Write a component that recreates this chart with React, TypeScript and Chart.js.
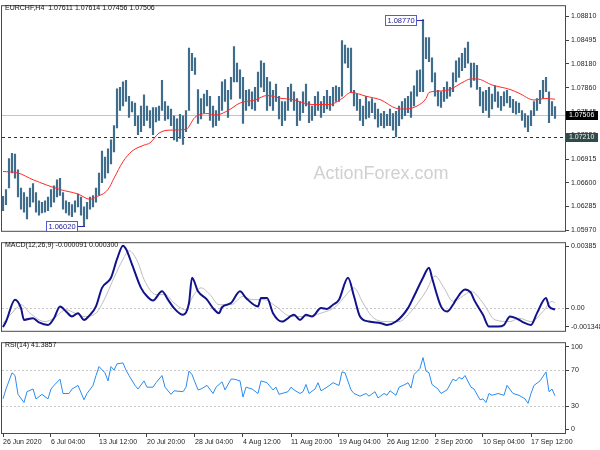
import React, { useEffect, useRef } from 'react';
import { Chart, registerables } from 'chart.js';

Chart.register(...registerables);

const FONT = '"Liberation Sans", Arial, sans-serif';
Chart.defaults.font.family = FONT;

// ---------------- DATA ----------------
const SYMBOL = 'EURCHF,H4';
const lastOHLC = [1.07611, 1.07614, 1.07456, 1.07506];

// bar index 0..184 (each ~ 2 H4 bars of the picture)
const highs = [
  1.0642, 1.0651, 1.0692, 1.0699, 1.0698, 1.0677, 1.0653, 1.0647, 1.0641, 1.0653,
  1.0659, 1.0647, 1.0636, 1.0634, 1.0636, 1.0641, 1.0651, 1.0656, 1.0664, 1.0666,
  1.0647, 1.0636, 1.0634, 1.0631, 1.0636, 1.0645, 1.0641, 1.0628, 1.0634, 1.0641,
  1.0643, 1.0653, 1.0673, 1.0702, 1.0694, 1.0705, 1.0717, 1.0736, 1.0785, 1.0787,
  1.0794, 1.0796, 1.0775, 1.0768, 1.0766, 1.0749, 1.0762, 1.0777, 1.0762, 1.0756,
  1.0760, 1.0760, 1.0762, 1.0796, 1.0768, 1.0762, 1.0758, 1.0749, 1.0745, 1.0751,
  1.0749, 1.0756, 1.0839, 1.0832, 1.0826, 1.0784, 1.0772, 1.0778, 1.0783, 1.0775,
  1.0762, 1.0756, 1.0775, 1.0794, 1.0797, 1.0783, 1.0800, 1.0841, 1.0819, 1.0810,
  1.0800, 1.0783, 1.0784, 1.0781, 1.0787, 1.0807, 1.0822, 1.0819, 1.0800, 1.0794,
  1.0783, 1.0791, 1.0775, 1.0768, 1.0768, 1.0787, 1.0791, 1.0781, 1.0772, 1.0768,
  1.0781, 1.0791, 1.0768, 1.0762, 1.0775, 1.0781, 1.0768, 1.0775, 1.0783, 1.0775,
  1.0787, 1.0789, 1.0787, 1.0849, 1.0843, 1.0839, 1.0839, 1.0783, 1.0778, 1.0771,
  1.0762, 1.0775, 1.0768, 1.0772, 1.0766, 1.0758, 1.0752, 1.0755, 1.0751, 1.0758,
  1.0752, 1.0755, 1.0762, 1.0768, 1.0772, 1.0775, 1.0781, 1.0789, 1.0809, 1.0810,
  1.0877, 1.0853, 1.0853, 1.0826, 1.0806, 1.0783, 1.0781, 1.0787, 1.0794, 1.0787,
  1.0806, 1.0822, 1.0826, 1.0832, 1.0839, 1.0847, 1.0819, 1.0819, 1.0816, 1.0787,
  1.0781, 1.0783, 1.0787, 1.0778, 1.0789, 1.0781, 1.0775, 1.0781, 1.0783, 1.0775,
  1.0771, 1.0768, 1.0766, 1.0756, 1.0752, 1.0749, 1.0756, 1.0768, 1.0772, 1.0783,
  1.0796, 1.0800, 1.0781, 1.0768, 1.07614,
];
const lows = [
  1.0623, 1.0631, 1.0653, 1.0673, 1.0666, 1.0641, 1.0625, 1.0621, 1.0612, 1.0628,
  1.0634, 1.0621, 1.0617, 1.0620, 1.0621, 1.0623, 1.0628, 1.0634, 1.0641, 1.0643,
  1.0625, 1.0620, 1.0617, 1.0615, 1.0621, 1.0628, 1.0617, 1.0602, 1.0612, 1.0625,
  1.0628, 1.0634, 1.0643, 1.0660, 1.0666, 1.0673, 1.0685, 1.0701, 1.0733, 1.0756,
  1.0762, 1.0768, 1.0747, 1.0754, 1.0736, 1.0724, 1.0728, 1.0736, 1.0743, 1.0733,
  1.0724, 1.0741, 1.0743, 1.0756, 1.0743, 1.0745, 1.0736, 1.0717, 1.0715, 1.0719,
  1.0711, 1.0728, 1.0756, 1.0809, 1.0804, 1.0739, 1.0745, 1.0753, 1.0762, 1.0743,
  1.0734, 1.0736, 1.0743, 1.0756, 1.0768, 1.0747, 1.0771, 1.0794, 1.0794, 1.0772,
  1.0739, 1.0756, 1.0762, 1.0758, 1.0756, 1.0768, 1.0787, 1.0781, 1.0756, 1.0762,
  1.0756, 1.0768, 1.0745, 1.0736, 1.0743, 1.0756, 1.0768, 1.0756, 1.0736, 1.0743,
  1.0753, 1.0762, 1.0740, 1.0743, 1.0749, 1.0756, 1.0747, 1.0753, 1.0758, 1.0756,
  1.0762, 1.0768, 1.0768, 1.0775, 1.0819, 1.0813, 1.0781, 1.0762, 1.0756, 1.0743,
  1.0736, 1.0745, 1.0747, 1.0753, 1.0745, 1.0734, 1.0736, 1.0733, 1.0736, 1.0736,
  1.0730, 1.0721, 1.0736, 1.0745, 1.0749, 1.0753, 1.0747, 1.0762, 1.0775, 1.0781,
  1.0781, 1.0825, 1.0821, 1.0794, 1.0775, 1.0762, 1.0760, 1.0768, 1.0772, 1.0775,
  1.0781, 1.0794, 1.0800, 1.0809, 1.0813, 1.0819, 1.0787, 1.0796, 1.0784, 1.0762,
  1.0753, 1.0756, 1.0747, 1.0758, 1.0768, 1.0760, 1.0756, 1.0762, 1.0766, 1.0760,
  1.0753, 1.0751, 1.0753, 1.0743, 1.0734, 1.0728, 1.0736, 1.0749, 1.0756, 1.0765,
  1.0772, 1.0781, 1.0740, 1.0749, 1.07456,
];

// moving average (red)
const maIdx = [0, 5, 10, 19, 25, 29, 31, 35, 37, 40, 43, 47, 49, 52, 56, 61, 64, 68, 71, 75,
  79, 84, 88, 93, 96, 103, 109, 113, 116, 121, 126, 131, 134, 138, 141, 142, 146, 149, 153, 156,
  158, 163, 169, 172, 177, 181, 184];
const maVal = [1.0675, 1.0673, 1.0664, 1.0651, 1.0645, 1.0638, 1.0641, 1.0651, 1.0666, 1.0688,
  1.0702, 1.0710, 1.0713, 1.0726, 1.0730, 1.0731, 1.0747, 1.0752, 1.0750, 1.0756,
  1.0766, 1.0770, 1.0776, 1.0772, 1.0771, 1.0764, 1.0764, 1.0772, 1.0780, 1.0775,
  1.0770, 1.0759, 1.0758, 1.0762, 1.0772, 1.0780, 1.0782, 1.0784, 1.0793, 1.0798,
  1.0798, 1.0790, 1.0784, 1.0779, 1.0770, 1.0772, 1.0771];

const priceTicks = [1.0597, 1.06285, 1.066, 1.06915, 1.0723, 1.07545, 1.0786, 1.0818, 1.08495, 1.0881];
const levelLine = 1.0721;
const highMarkIdx = 140;
const highMarkVal = 1.0877;
const lowMarkIdx = 27;
const lowMarkVal = 1.0602;

// MACD
const macdIdx = [0, 1, 4, 6, 7, 10, 12, 15, 17, 19, 21, 23, 25, 27, 29, 31, 33, 36, 38, 40,
  41, 43, 46, 48, 50, 53, 55, 57, 60, 62, 63, 65, 68, 70, 72, 73, 76, 79, 81, 85,
  86, 88, 90, 93, 97, 99, 101, 103, 106, 108, 110, 112, 115, 117, 119, 122, 126, 128, 131, 135,
  137, 140, 142, 143, 146, 148, 150, 151, 154, 156, 157, 160, 162, 165, 167, 169, 171, 173, 176, 178,
  181, 182, 184];
const macdVal = [-0.00113, -0.0008, 0.0005, 0, -0.0007, -0.0006, -0.00085, -0.001, -0.0006, 0.0001,
  -0.0002, -0.0005, -0.0003, -0.0007, -0.0004, 0.0001, 0.0012, 0.0018, 0.0029, 0.0037,
  0.0035, 0.0026, 0.0012, 0.0007, 0.00045, 0.001, 0.0005, 0, -0.0004, 0.0003,
  0.0018, 0.001, 0.0005, 0, -0.0003, 0.00005, 0.0003, 0.001, 0.0006, 0.0001,
  0.0006, 0.0006, -0.0003, -0.0008, -0.0004, -0.0007, -0.0004, -0.0005, 0, -0.00005,
  0.0002, 0.0005, 0.0018, 0.0007, -0.0005, -0.0008, -0.0009, -0.001, -0.0008, 0,
  0.0007, 0.0018, 0.0024, 0.0018, 0.0001, -0.0002, 0.0002, 0.0005, 0.0011, 0.0009,
  0.0005, -0.0004, -0.0011, -0.0011, -0.001, -0.0005, -0.0006, -0.0008, -0.001, -0.0003,
  0.0006, 0.0001, -0.000091];
const sigIdx = [0, 4, 6, 9, 14, 17, 21, 24, 27, 31, 34, 37, 40, 42, 45, 47, 51, 54, 57, 61,
  63, 66, 69, 72, 76, 80, 83, 87, 91, 96, 101, 106, 111, 114, 117, 120, 123, 127, 132, 136,
  141, 144, 147, 150, 154, 156, 160, 164, 169, 172, 176, 180, 183, 184];
const sigVal = [-0.0009, -0.0001, 0.0002, -0.0003, -0.0008, -0.0006, -0.0001, -0.0003, -0.0005, -0.0003,
  0.0006, 0.0018, 0.0029, 0.0034, 0.0027, 0.0017, 0.0008, 0.0008, 0.0003, -0.0001,
  0.0006, 0.0012, 0.0008, 0.0002, 0.0002, 0.0007, 0.0005, 0.0005, 0.0001, -0.0005,
  -0.0005, -0.0003, 0.0001, 0.0007, 0.0012, 0.0003, -0.0005, -0.0008, -0.0008, -0.0002,
  0.001, 0.0019, 0.0012, 0.0004, 0.0008, 0.001, 0.0003, -0.0007, -0.0008, -0.0006,
  -0.0008, -0.0002, 0.0004, 0.0003];
const macdMin = -0.001348;
const macdMax = 0.00385;
const macdTickPos = [0.00368, 0, -0.00112];
const macdTickLabels = ['0.00385', '0.00', '-0.001348'];

// RSI
const rsiIdx = [0, 1, 3, 4, 5, 7, 8, 10, 11, 13, 15, 16, 17, 19, 20, 22, 23, 25, 27, 28,
  30, 31, 32, 34, 35, 36, 37, 38, 40, 41, 42, 44, 45, 47, 48, 50, 51, 53, 54, 56,
  57, 60, 61, 62, 63, 65, 66, 68, 70, 71, 73, 74, 76, 77, 79, 80, 81, 83, 85, 86,
  88, 90, 91, 92, 95, 96, 97, 99, 100, 101, 102, 104, 105, 106, 108, 110, 112, 113, 114, 116,
  117, 119, 121, 122, 124, 125, 127, 128, 129, 131, 132, 134, 135, 136, 137, 139, 140, 141, 142, 143,
  145, 146, 148, 150, 151, 152, 153, 154, 156, 157, 159, 160, 161, 162, 163, 165, 167, 168, 170, 172,
  174, 175, 176, 177, 179, 181, 182, 183, 184];
const rsiVal = [38, 49, 67, 64, 43, 34, 46, 49, 38, 43, 38, 49, 53, 60, 44, 44, 49, 53, 37, 44,
  53, 64, 74, 67, 58, 74, 70, 77, 78, 70, 64, 53, 49, 58, 51, 51, 56, 64, 51, 43,
  47, 46, 51, 69, 65, 48, 49, 53, 44, 51, 57, 48, 60, 60, 58, 40, 51, 49, 44, 58,
  56, 48, 51, 43, 46, 51, 48, 44, 46, 54, 44, 49, 56, 47, 51, 56, 53, 68, 67, 48,
  44, 41, 44, 41, 46, 39, 44, 42, 47, 42, 51, 54, 56, 50, 65, 72, 84, 69, 67, 54,
  49, 44, 48, 60, 58, 62, 60, 64, 51, 49, 37, 38, 34, 44, 42, 44, 42, 53, 44, 42,
  38, 33, 44, 53, 58, 68, 46, 49, 41.3857];
const rsiLevels = [70, 30];
const rsiTickPos = [96, 70, 30, 4];
const rsiTickLabels = ['100', '70', '30', '0'];

const xTickIdx = [0, 16, 32, 48, 64, 80, 96, 112, 128, 144, 160, 176];
const xTickLabels = ['26 Jun 2020', '6 Jul 04:00', '13 Jul 12:00', '20 Jul 20:00', '28 Jul 04:00',
  '4 Aug 12:00', '11 Aug 20:00', '19 Aug 04:00', '26 Aug 12:00', '2 Sep 20:00', '10 Sep 04:00', '17 Sep 12:00'];

// ---------------- LAYOUT ----------------
const X_MIN = -1 / 3;
const X_MAX = 187 + 1 / 3;
const MAIN_MIN = 1.05961;
const MAIN_MAX = 1.08947;
const tickFont = { family: FONT, size: 7 };
const TXT = '#1e1e1e';
const AXIS = '#404040';

function xAxis(display: boolean): any {
  return {
    type: 'linear', min: X_MIN, max: X_MAX, offset: false, display,
    border: { display: false },
    grid: { display: true, drawOnChartArea: false, drawTicks: true, tickLength: 4, color: AXIS, offset: false },
    ticks: {
      autoSkip: false, maxRotation: 0, minRotation: 0, align: 'start', padding: 1,
      font: tickFont, color: TXT,
      callback: (_v: any, i: number) => xTickLabels[i] ?? '',
    },
    afterBuildTicks: (s: any) => { s.ticks = xTickIdx.map((v) => ({ value: v })); },
    afterFit: (s: any) => {
      s.height = display ? 17 : 0;
      s.paddingLeft = 0;
      s.paddingRight = 0;
    },
  };
}

function yAxis(min: number, max: number, pos: number[], labels: string[]): any {
  return {
    type: 'linear', position: 'right', min, max, beginAtZero: false,
    border: { display: false },
    grid: { display: true, drawOnChartArea: false, drawTicks: true, tickLength: 4, color: AXIS },
    ticks: { autoSkip: false, padding: 2, font: tickFont, color: TXT, callback: (_v: any, i: number) => labels[i] },
    afterBuildTicks: (s: any) => { s.ticks = pos.map((v) => ({ value: v })); },
    afterFit: (s: any) => { s.width = 35; },
  };
}

function frame(chart: any) {
  const { ctx, chartArea: a } = chart;
  ctx.save();
  ctx.strokeStyle = '#4a4a4a';
  ctx.lineWidth = 1;
  ctx.strokeRect(a.left - 0.5, a.top - 0.5, a.right - a.left + 1, a.bottom - a.top + 1);
  ctx.restore();
}

function titleText(chart: any, text: string, baseline: number) {
  const { ctx, chartArea: a } = chart;
  ctx.save();
  ctx.font = `7px ${FONT}`;
  ctx.fillStyle = '#111';
  ctx.textAlign = 'left';
  ctx.textBaseline = 'alphabetic';
  ctx.fillText(text, a.left + 3, baseline);
  ctx.restore();
}

function hLine(chart: any, value: number, color: string, dash: number[]) {
  const { ctx, chartArea: a, scales } = chart;
  const y = Math.round(scales.y.getPixelForValue(value)) + 0.5;
  ctx.save();
  ctx.strokeStyle = color;
  ctx.lineWidth = 1;
  ctx.setLineDash(dash);
  ctx.beginPath();
  ctx.moveTo(a.left, y);
  ctx.lineTo(a.right, y);
  ctx.stroke();
  ctx.restore();
}

function priceBox(chart: any, value: number, bg: string, fg: string) {
  const { ctx, chartArea: a, scales } = chart;
  const py = Math.round(scales.y.getPixelForValue(value));
  ctx.save();
  ctx.fillStyle = bg;
  ctx.fillRect(a.right + 1, py - 4, 32, 9);
  ctx.fillStyle = fg;
  ctx.font = `7px ${FONT}`;
  ctx.textAlign = 'left';
  ctx.textBaseline = 'middle';
  ctx.fillText(value.toFixed(5), a.right + 4, py + 0.5);
  ctx.restore();
}

function markBox(chart: any, idx: number, value: number) {
  const { ctx, scales } = chart;
  const px = Math.round(scales.x.getPixelForValue(idx));
  const py = Math.round(scales.y.getPixelForValue(value));
  const right = px - 6;
  const left = right - 32;
  ctx.save();
  ctx.fillStyle = '#ffffff';
  ctx.fillRect(left, py - 5, 32, 10);
  ctx.strokeStyle = '#5a5ad0';
  ctx.lineWidth = 1;
  ctx.strokeRect(left + 0.5, py - 4.5, 31, 10);
  ctx.strokeStyle = '#2a2aa8';
  ctx.beginPath();
  ctx.moveTo(right, py + 0.5);
  ctx.lineTo(px + 1, py + 0.5);
  ctx.stroke();
  ctx.fillStyle = '#24249a';
  ctx.font = `7.5px ${FONT}`;
  ctx.textAlign = 'center';
  ctx.textBaseline = 'middle';
  ctx.fillText(value.toFixed(5), left + 16, py + 0.5);
  ctx.restore();
}

const mainPlugin = {
  id: 'mainDecor',
  beforeDatasetsDraw(chart: any) {
    const { ctx } = chart;
    ctx.save();
    ctx.font = `18px ${FONT}`;
    ctx.fillStyle = '#d0d0d0';
    ctx.textAlign = 'center';
    ctx.textBaseline = 'alphabetic';
    ctx.fillText('ActionForex.com', 381, 179);
    ctx.restore();
    hLine(chart, lastOHLC[3], '#c4c4c4', []);
    hLine(chart, levelLine, '#303030', [3, 3]);
  },
  afterDraw(chart: any) {
    frame(chart);
    titleText(chart, `${SYMBOL}  ${lastOHLC.map((v) => v.toFixed(5)).join(' ')}`, 10);
    markBox(chart, highMarkIdx, highMarkVal);
    markBox(chart, lowMarkIdx, lowMarkVal);
    priceBox(chart, lastOHLC[3], '#000000', '#ffffff');
    priceBox(chart, levelLine, '#2f4a4a', '#f0f0f0');
  },
};

const macdPlugin = {
  id: 'macdDecor',
  beforeDatasetsDraw(chart: any) {
    hLine(chart, 0, '#c8c8c8', [2, 2]);
  },
  afterDraw(chart: any) {
    frame(chart);
    titleText(chart, `MACD(12,26,9) ${macdVal[macdVal.length - 1].toFixed(6)} ${sigVal[sigVal.length - 1].toFixed(6)}`, 10);
  },
};

const rsiPlugin = {
  id: 'rsiDecor',
  beforeDatasetsDraw(chart: any) {
    rsiLevels.forEach((l) => hLine(chart, l, '#c8c8c8', [2, 2]));
  },
  afterDraw(chart: any) {
    frame(chart);
    titleText(chart, `RSI(14) ${rsiVal[rsiVal.length - 1].toFixed(4)}`, 10);
  },
};

const baseOptions = (padding: any) => ({
  responsive: false,
  animation: false as const,
  events: [] as any[],
  layout: { padding },
  plugins: { legend: { display: false }, tooltip: { enabled: false } },
});

export default function App() {
  const mainRef = useRef<HTMLCanvasElement>(null);
  const macdRef = useRef<HTMLCanvasElement>(null);
  const rsiRef = useRef<HTMLCanvasElement>(null);

  useEffect(() => {
    const charts: Chart[] = [];

    charts.push(new Chart(mainRef.current as HTMLCanvasElement, {
      type: 'bar',
      data: {
        datasets: [
          {
            type: 'bar',
            data: highs.map((h, i) => ({ x: i, y: [lows[i], h] })) as any,
            backgroundColor: '#3f6d8b',
            borderWidth: 0,
            barThickness: 1.5,
            grouped: false,
            order: 2,
          } as any,
          {
            type: 'line',
            data: maIdx.map((x, k) => ({ x, y: maVal[k] })),
            borderColor: '#ff2a2a',
            borderWidth: 1,
            pointRadius: 0,
            tension: 0.4,
            cubicInterpolationMode: 'monotone',
            order: 1,
          } as any,
        ],
      },
      options: {
        ...baseOptions({ left: 2, top: 1, right: 0, bottom: 2 }),
        scales: {
          x: xAxis(false),
          y: yAxis(MAIN_MIN, MAIN_MAX, priceTicks, priceTicks.map((v) => v.toFixed(5))),
        },
      } as any,
      plugins: [mainPlugin],
    }));

    charts.push(new Chart(macdRef.current as HTMLCanvasElement, {
      type: 'line',
      data: {
        datasets: [
          {
            data: macdIdx.map((x, k) => ({ x, y: macdVal[k] })),
            borderColor: '#12128c',
            borderWidth: 2,
            pointRadius: 0,
            tension: 0.35,
            cubicInterpolationMode: 'monotone',
            order: 1,
          } as any,
          {
            data: sigIdx.map((x, k) => ({ x, y: sigVal[k] })),
            borderColor: '#bdbdbd',
            borderWidth: 1,
            pointRadius: 0,
            tension: 0.4,
            cubicInterpolationMode: 'monotone',
            order: 2,
          } as any,
        ],
      },
      options: {
        ...baseOptions({ left: 2, top: 3, right: 0, bottom: 4 }),
        scales: {
          x: xAxis(false),
          y: yAxis(macdMin, macdMax, macdTickPos, macdTickLabels),
        },
      } as any,
      plugins: [macdPlugin],
    }));

    charts.push(new Chart(rsiRef.current as HTMLCanvasElement, {
      type: 'line',
      data: {
        datasets: [
          {
            data: rsiIdx.map((x, k) => ({ x, y: rsiVal[k] })),
            borderColor: '#2a8cf0',
            borderWidth: 1,
            pointRadius: 0,
            tension: 0,
          } as any,
        ],
      },
      options: {
        ...baseOptions({ left: 2, top: 1, right: 0, bottom: 0 }),
        scales: {
          x: xAxis(true),
          y: yAxis(0, 100, rsiTickPos, rsiTickLabels),
        },
      } as any,
      plugins: [rsiPlugin],
    }));

    return () => charts.forEach((c) => c.destroy());
  }, []);

  return (
    <div style={{ position: 'absolute', left: 0, top: 0, width: 600, height: 450, background: '#ffffff', overflow: 'hidden' }}>
      <canvas ref={mainRef} width={600} height={237} style={{ position: 'absolute', left: 0, top: 0 }} />
      <canvas ref={macdRef} width={600} height={100} style={{ position: 'absolute', left: 0, top: 237 }} />
      <canvas ref={rsiRef} width={600} height={113} style={{ position: 'absolute', left: 0, top: 337 }} />
    </div>
  );
}
